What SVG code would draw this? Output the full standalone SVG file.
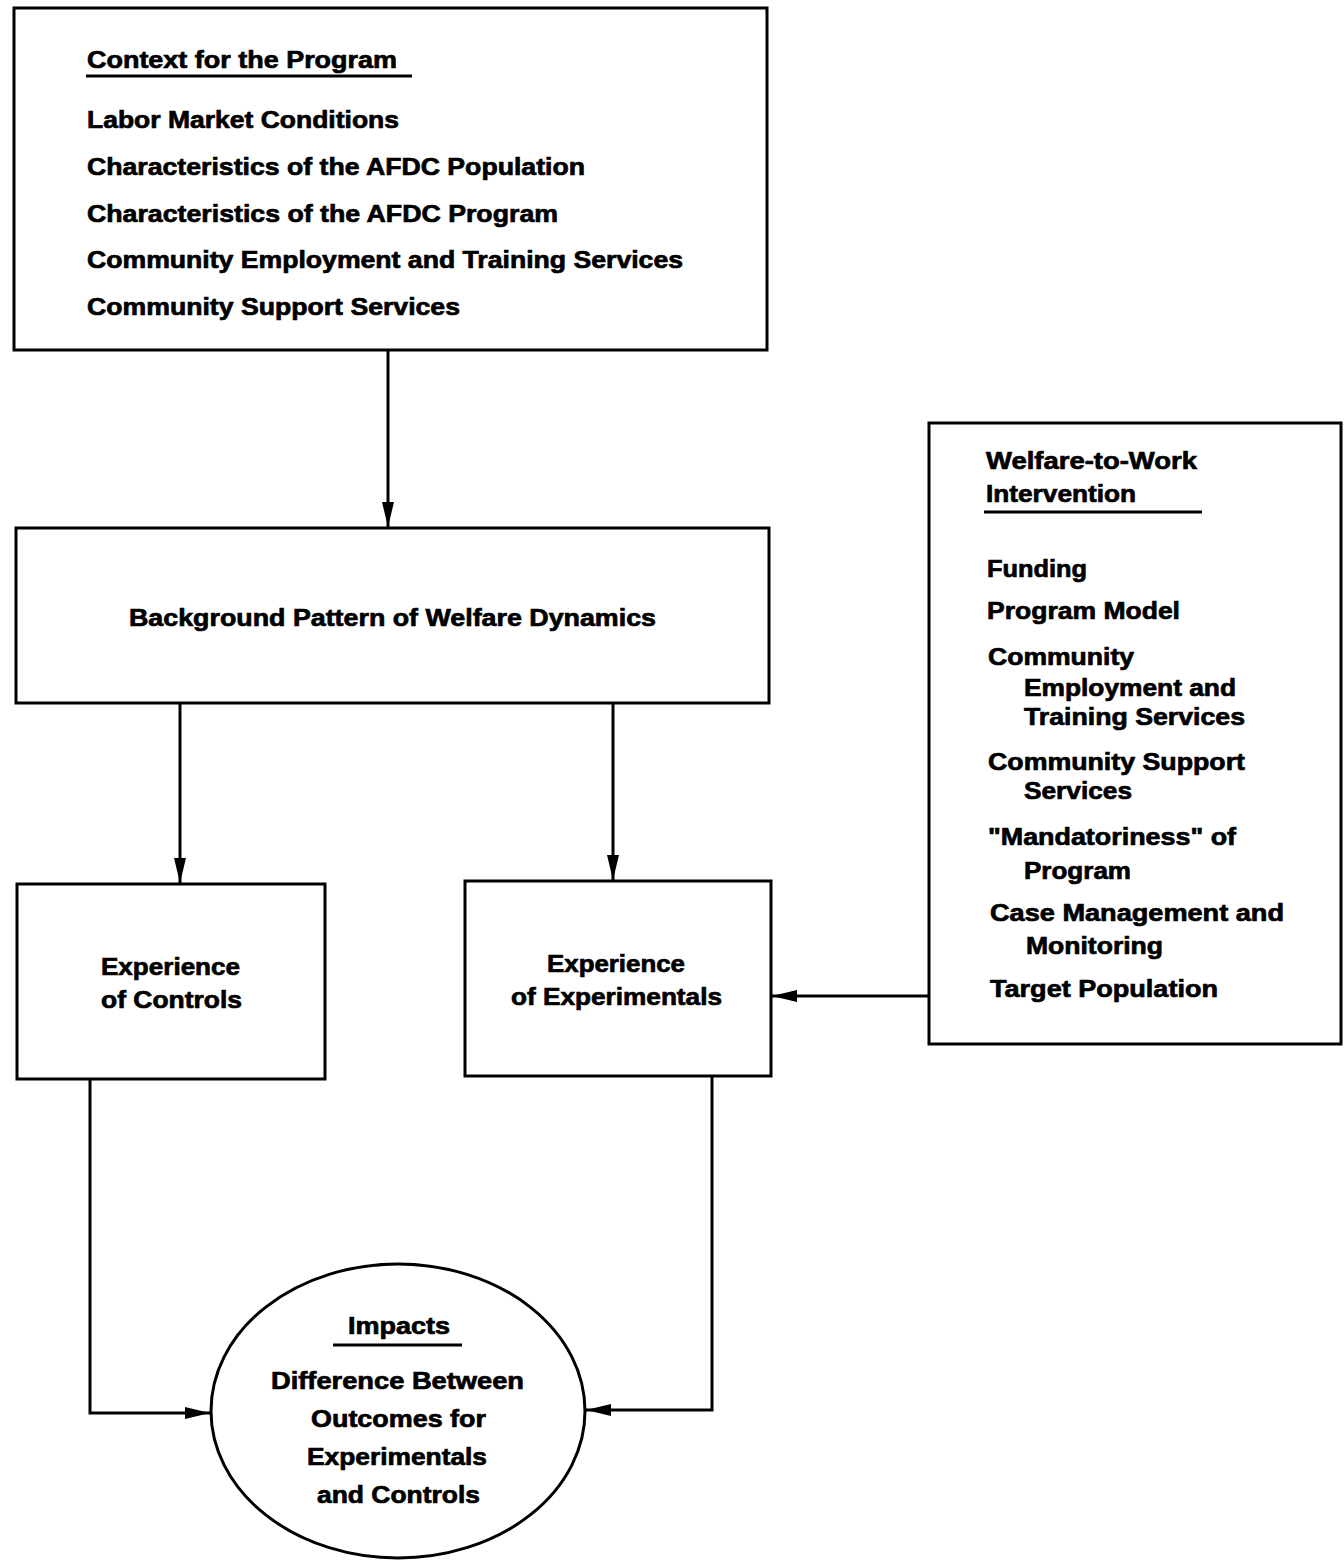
<svg xmlns="http://www.w3.org/2000/svg" width="1344" height="1561" viewBox="0 0 1344 1561">
<defs>
<style>
.box{fill:#fff;stroke:#000;stroke-width:3}
.t{font-family:"Liberation Sans",Arial,sans-serif;font-weight:bold;font-size:24px;fill:#000;stroke:#000;stroke-width:0.7}
.ul{stroke:#000;stroke-width:3}
.con{fill:none;stroke:#000;stroke-width:3}
</style>
<marker id="ah" markerUnits="userSpaceOnUse" markerWidth="26" markerHeight="14" refX="25" refY="7" orient="auto">
<path d="M0,1 L25,7 L0,13 Z" fill="#000"/>
</marker>
</defs>
<rect width="1344" height="1561" fill="#fff"/>

<g id="connectors">
<line class="con" x1="388" y1="350" x2="388" y2="527" marker-end="url(#ah)"/>
<line class="con" x1="180" y1="703" x2="180" y2="883" marker-end="url(#ah)"/>
<line class="con" x1="613" y1="703" x2="613" y2="880" marker-end="url(#ah)"/>
<line class="con" x1="929" y1="996" x2="772" y2="996" marker-end="url(#ah)"/>
<polyline class="con" points="90,1079 90,1413 210,1413" marker-end="url(#ah)"/>
<polyline class="con" points="712,1076 712,1410 586,1410" marker-end="url(#ah)"/>
</g>

<g id="context">
<rect class="box" x="14" y="8" width="753" height="342"/>
<text class="t" x="87" y="68" textLength="310" lengthAdjust="spacingAndGlyphs">Context for the Program</text>
<line class="ul" x1="86" y1="76" x2="412" y2="76"/>
<text class="t" x="87" y="128" textLength="312" lengthAdjust="spacingAndGlyphs">Labor Market Conditions</text>
<text class="t" x="87" y="175" textLength="498" lengthAdjust="spacingAndGlyphs">Characteristics of the AFDC Population</text>
<text class="t" x="87" y="222" textLength="471" lengthAdjust="spacingAndGlyphs">Characteristics of the AFDC Program</text>
<text class="t" x="87" y="268" textLength="596" lengthAdjust="spacingAndGlyphs">Community Employment and Training Services</text>
<text class="t" x="87" y="315" textLength="373" lengthAdjust="spacingAndGlyphs">Community Support Services</text>
</g>

<g id="background">
<rect class="box" x="16" y="528" width="753" height="175"/>
<text class="t" x="129" y="626" textLength="527" lengthAdjust="spacingAndGlyphs">Background Pattern of Welfare Dynamics</text>
</g>

<g id="controls">
<rect class="box" x="17" y="884" width="308" height="195"/>
<text class="t" x="101" y="975" textLength="139" lengthAdjust="spacingAndGlyphs">Experience</text>
<text class="t" x="101" y="1008" textLength="141" lengthAdjust="spacingAndGlyphs">of Controls</text>
</g>

<g id="experimentals">
<rect class="box" x="465" y="881" width="306" height="195"/>
<text class="t" x="547" y="972" textLength="138" lengthAdjust="spacingAndGlyphs">Experience</text>
<text class="t" x="511" y="1005" textLength="211" lengthAdjust="spacingAndGlyphs">of Experimentals</text>
</g>

<g id="intervention">
<rect class="box" x="929" y="423" width="412" height="621"/>
<text class="t" x="986" y="469" textLength="211" lengthAdjust="spacingAndGlyphs">Welfare-to-Work</text>
<text class="t" x="986" y="502" textLength="150" lengthAdjust="spacingAndGlyphs">Intervention</text>
<line class="ul" x1="984" y1="512" x2="1202" y2="512"/>
<text class="t" x="987" y="577" textLength="100" lengthAdjust="spacingAndGlyphs">Funding</text>
<text class="t" x="987" y="619" textLength="193" lengthAdjust="spacingAndGlyphs">Program Model</text>
<text class="t" x="988" y="665" textLength="146" lengthAdjust="spacingAndGlyphs">Community</text>
<text class="t" x="1024" y="696" textLength="212" lengthAdjust="spacingAndGlyphs">Employment and</text>
<text class="t" x="1024" y="725" textLength="221" lengthAdjust="spacingAndGlyphs">Training Services</text>
<text class="t" x="988" y="770" textLength="257" lengthAdjust="spacingAndGlyphs">Community Support</text>
<text class="t" x="1024" y="799" textLength="108" lengthAdjust="spacingAndGlyphs">Services</text>
<text class="t" x="988" y="845" textLength="248" lengthAdjust="spacingAndGlyphs">"Mandatoriness" of</text>
<text class="t" x="1024" y="879" textLength="107" lengthAdjust="spacingAndGlyphs">Program</text>
<text class="t" x="990" y="921" textLength="294" lengthAdjust="spacingAndGlyphs">Case Management and</text>
<text class="t" x="1026" y="954" textLength="137" lengthAdjust="spacingAndGlyphs">Monitoring</text>
<text class="t" x="990" y="997" textLength="228" lengthAdjust="spacingAndGlyphs">Target Population</text>
</g>

<g id="impacts">
<ellipse class="box" cx="398" cy="1411" rx="187" ry="147"/>
<text class="t" x="348" y="1334" textLength="102" lengthAdjust="spacingAndGlyphs">Impacts</text>
<line class="ul" x1="333" y1="1345" x2="462" y2="1345"/>
<text class="t" x="271" y="1389" textLength="253" lengthAdjust="spacingAndGlyphs">Difference Between</text>
<text class="t" x="311" y="1427" textLength="175" lengthAdjust="spacingAndGlyphs">Outcomes for</text>
<text class="t" x="307" y="1465" textLength="180" lengthAdjust="spacingAndGlyphs">Experimentals</text>
<text class="t" x="317" y="1503" textLength="163" lengthAdjust="spacingAndGlyphs">and Controls</text>
</g>
</svg>
